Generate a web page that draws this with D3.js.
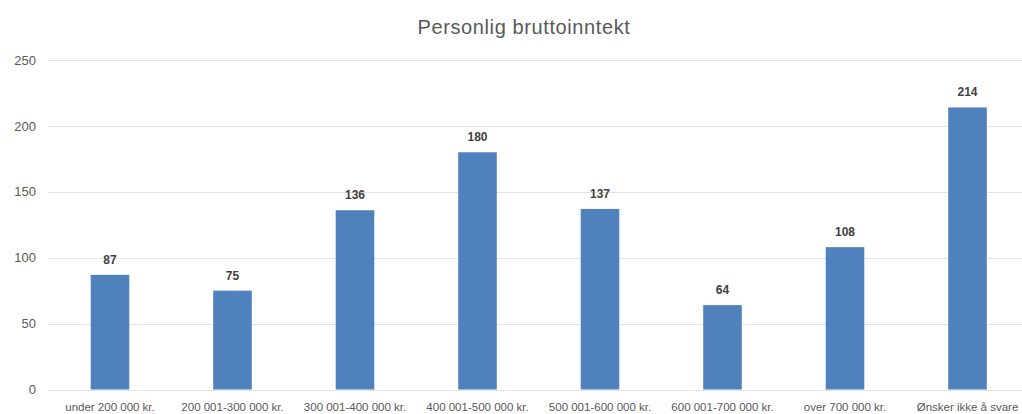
<!DOCTYPE html>
<html>
<head>
<meta charset="utf-8">
<script src="https://cdn.jsdelivr.net/npm/d3@7"></script>
<style>
  body { margin: 0; background: #fff; }
  text { font-family: "Liberation Sans", Arial, sans-serif; }
</style>
</head>
<body>
<div id="chart"></div>
<script>
var svgWidth = 1022;
var svgHeight = 414;

// data
var categories = ["under 200 000 kr.", "200 001-300 000 kr.", "300 001-400 000 kr.", "400 001-500 000 kr.",
  "500 001-600 000 kr.", "600 001-700 000 kr.", "over 700 000 kr.", "Ønsker ikke å svare"];
var counts = [87, 75, 136, 180, 137, 64, 108, 214];
var yTicks = [0, 50, 100, 150, 200, 250];

var svg = d3.select("#chart")
  .append("svg")
  .attr("width", svgWidth)
  .attr("height", svgHeight);

var xScale = d3.scaleBand()
  .domain(categories)
  .range([48.75, 1028.75])
  .paddingInner(0.685)
  .paddingOuter(0.3425);

var yScale = d3.scaleLinear()
  .domain([0, 250])
  .range([389.5, 60]);

// title
svg.append("text")
  .attr("x", 524)
  .attr("y", 34)
  .attr("text-anchor", "middle")
  .attr("fill", "#595959")
  .style("font-size", "20px")
  .style("letter-spacing", "0.6px")
  .text("Personlig bruttoinntekt");

// gridlines
svg.append("g")
  .selectAll("line")
  .data(yTicks)
  .enter()
  .append("line")
  .attr("x1", 48)
  .attr("x2", svgWidth)
  .attr("y1", d => Math.round(yScale(d)) + 0.5)
  .attr("y2", d => Math.round(yScale(d)) + 0.5)
  .attr("stroke", "#e3e3e3")
  .attr("stroke-width", 1);

// y axis labels
var leftAxis = d3.axisLeft(yScale).tickValues(yTicks).tickSize(0).tickPadding(0);
var yAxis = svg.append("g")
  .attr("transform", "translate(36, 0)")
  .call(leftAxis);
yAxis.select(".domain").remove();
yAxis.selectAll("text")
  .attr("fill", "#595959")
  .style("font-size", "13px");

// bars
svg.append("g")
  .selectAll("rect")
  .data(counts)
  .enter()
  .append("rect")
  .attr("x", (d, i) => xScale(categories[i]))
  .attr("width", xScale.bandwidth())
  .attr("y", d => yScale(d))
  .attr("height", d => yScale(0) - yScale(d))
  .attr("fill", "#4f81bd");

// value labels
svg.append("g")
  .selectAll("text")
  .data(counts)
  .enter()
  .append("text")
  .attr("x", (d, i) => xScale(categories[i]) + xScale.bandwidth() / 2)
  .attr("y", d => yScale(d) - 11)
  .attr("text-anchor", "middle")
  .attr("fill", "#404040")
  .style("font-size", "12px")
  .style("font-weight", "bold")
  .text(d => d);

// x axis labels
var bottomAxis = d3.axisBottom(xScale).tickSize(0).tickPadding(0);
var xAxis = svg.append("g")
  .attr("transform", "translate(0, 403)")
  .call(bottomAxis);
xAxis.select(".domain").remove();
xAxis.selectAll("text")
  .attr("fill", "#595959")
  .attr("dy", "0.7em")
  .style("font-size", "11.5px");
</script>
</body>
</html>
